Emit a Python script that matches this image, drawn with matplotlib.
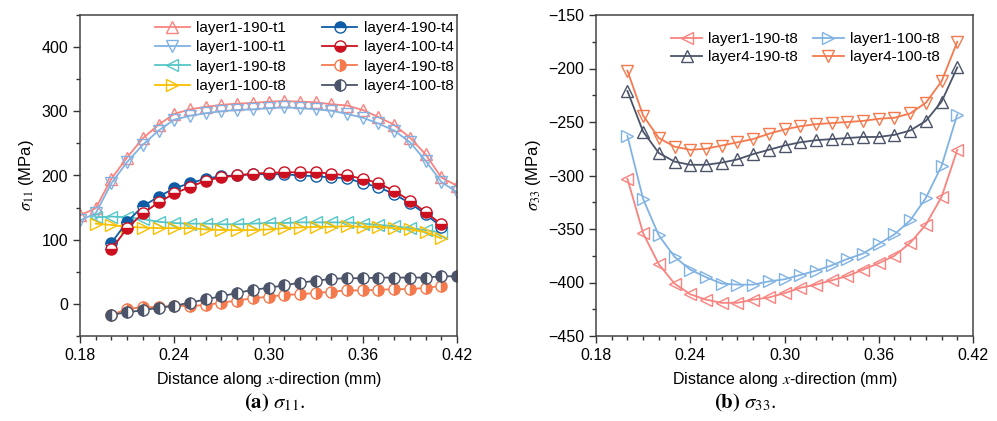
import matplotlib.pyplot as plt
import numpy as np
from matplotlib.ticker import MultipleLocator, FormatStrFormatter

plt.rcParams['font.family'] = ['Liberation Sans', 'DejaVu Sans']
plt.rcParams['mathtext.fontset'] = 'stix'

# ---- (a) sigma_11 ----
x_t1 = [0.18, 0.19, 0.20, 0.21, 0.22, 0.23, 0.24, 0.25, 0.26, 0.27, 0.28, 0.29, 0.30,
        0.31, 0.32, 0.33, 0.34, 0.35, 0.36, 0.37, 0.38, 0.39, 0.40, 0.41, 0.42]
l1_190_t1 = [138, 149, 195, 228, 258, 279, 296, 303, 307, 310, 312, 313, 315,
             316, 315, 314, 311, 309, 302, 291, 279, 259, 233, 197, 184]
l1_100_t1 = [130, 141, 188, 221, 248, 270, 287, 293, 297, 300, 302, 303, 305,
             306, 305, 303, 301, 296, 290, 281, 270, 252, 223, 190, 174]

x_t8a = [0.19, 0.20, 0.21, 0.22, 0.23, 0.24, 0.25, 0.26, 0.27, 0.28, 0.29, 0.30,
         0.31, 0.32, 0.33, 0.34, 0.35, 0.36, 0.37, 0.38, 0.39, 0.40, 0.41]
l1_190_t8 = [135, 136, 135, 132, 128, 126, 125, 125, 124, 124, 125, 126,
             126, 127, 127, 127, 127, 125, 123, 121, 118, 115, 111]
l1_100_t8 = [125, 123, 120, 119, 118, 118, 118, 116, 115, 115, 115, 116,
             118, 119, 120, 120, 121, 120, 120, 118, 116, 112, 102]

x_t4 = [0.20, 0.21, 0.22, 0.23, 0.24, 0.25, 0.26, 0.27, 0.28, 0.29, 0.30,
        0.31, 0.32, 0.33, 0.34, 0.35, 0.36, 0.37, 0.38, 0.39, 0.40, 0.41]
l4_190_t4 = [95, 128, 152, 167, 180, 188, 195, 199, 200, 202, 202,
             202, 200, 199, 197, 196, 188, 182, 171, 157, 140, 120]
l4_100_t4 = [85, 118, 141, 158, 172, 182, 192, 197, 200, 203, 204,
             205, 205, 205, 203, 200, 195, 188, 176, 161, 143, 124]
l4_190_t8 = [-17, -8, -5, -5, -3, -3, -2, 2, 5, 9, 11,
             14, 15, 17, 19, 21, 21, 22, 23, 23, 25, 28]

x_t8b = [0.20, 0.21, 0.22, 0.23, 0.24, 0.25, 0.26, 0.27, 0.28, 0.29, 0.30, 0.31,
         0.32, 0.33, 0.34, 0.35, 0.36, 0.37, 0.38, 0.39, 0.40, 0.41, 0.42]
l4_100_t8 = [-17, -13, -10, -6, -3, 2, 7, 12, 17, 22, 25, 29,
             33, 36, 39, 40, 40, 41, 41, 41, 41, 43, 43]

# ---- (b) sigma_33 ----
x_b = [0.20, 0.21, 0.22, 0.23, 0.24, 0.25, 0.26, 0.27, 0.28, 0.29, 0.30,
       0.31, 0.32, 0.33, 0.34, 0.35, 0.36, 0.37, 0.38, 0.39, 0.40, 0.41]
s33_l1_190 = [-303, -354, -383, -401, -411, -416, -419, -419, -416, -414, -410,
              -405, -402, -398, -394, -388, -382, -375, -363, -346, -320, -276]
s33_l1_100 = [-263, -322, -356, -376, -388, -395, -401, -402, -402, -399, -397,
              -393, -389, -384, -378, -373, -364, -355, -342, -321, -291, -243]
s33_l4_190 = [-221, -259, -279, -287, -290, -290, -288, -285, -280, -276, -272,
              -269, -267, -266, -265, -264, -264, -262, -258, -249, -231, -199]
s33_l4_100 = [-202, -244, -265, -273, -276, -275, -272, -269, -266, -261, -257,
              -254, -252, -251, -250, -249, -247, -246, -242, -232, -212, -175]

pink = '#F8837F'
lblue = '#80B3E3'
cyan = '#55C6C6'
yellow = '#F9C000'
dblue = '#0E5CA6'
red = '#CC1020'
orange = '#F47A4E'
slate = '#4B5468'

fig = plt.figure(figsize=(9.97, 4.21), dpi=100)
ax1 = fig.add_axes([80/997, 1-336/421, 377/997, 321/421])
ax2 = fig.add_axes([596/997, 1-336/421, 377/997, 321/421])

ms = 8
lw = 1.3
tri = dict(ms=ms, lw=lw, mfc='none', mew=1.0)
ax1.plot(x_t1, l1_190_t1, '-^', color=pink, label='layer1-190-t1', **tri)
ax1.plot(x_t1, l1_100_t1, '-v', color=lblue, label='layer1-100-t1', **tri)
ax1.plot(x_t8a, l1_190_t8, '-<', color=cyan, label='layer1-190-t8', **tri)
ax1.plot(x_t8a, l1_100_t8, '->', color=yellow, label='layer1-100-t8', **tri)

circ = dict(ms=ms, lw=lw, mfcalt='white', mew=1.0)
ax1.plot(x_t4, l4_190_t4, '-o', color=dblue, fillstyle='top', label='layer4-190-t4', **circ)
ax1.plot(x_t4, l4_100_t4, '-o', color=red, fillstyle='bottom', label='layer4-100-t4', **circ)
ax1.plot(x_t4, l4_190_t8, '-o', color=orange, fillstyle='right', label='layer4-190-t8', **circ)
ax1.plot(x_t8b, l4_100_t8, '-o', color=slate, fillstyle='left', label='layer4-100-t8', **circ)

b1, = ax2.plot(x_b, s33_l1_190, '-<', color=pink, label='layer1-190-t8', **tri)
b2, = ax2.plot(x_b, s33_l1_100, '->', color=lblue, label='layer1-100-t8', **tri)
b3, = ax2.plot(x_b, s33_l4_190, '-^', color=slate, label='layer4-190-t8', **tri)
b4, = ax2.plot(x_b, s33_l4_100, '-v', color=orange, label='layer4-100-t8', **tri)

for ax in (ax1, ax2):
    ax.set_xlim(0.18, 0.42)
    ax.xaxis.set_major_locator(MultipleLocator(0.06))
    ax.xaxis.set_minor_locator(MultipleLocator(0.01))
    ax.xaxis.set_major_formatter(FormatStrFormatter('%.2f'))
    ax.tick_params(which='major', direction='out', length=5, width=1, labelsize=11.5, color='#333333')
    ax.tick_params(which='minor', direction='out', length=3, width=1, color='#333333')
    for s in ax.spines.values():
        s.set_color('#444444')
        s.set_linewidth(1.1)
    ax.set_xlabel('Distance along $x$-direction (mm)', fontsize=11.5, labelpad=5)

ax1.set_ylim(-50, 450)
ax1.yaxis.set_major_locator(MultipleLocator(100))
ax1.yaxis.set_minor_locator(MultipleLocator(50))
ax1.set_ylabel(r'$\sigma_{11}$ (MPa)', fontsize=12, labelpad=4)

ax2.set_ylim(-450, -150)
ax2.yaxis.set_major_locator(MultipleLocator(50))
ax2.yaxis.set_minor_locator(MultipleLocator(25))
ax2.set_ylabel(r'$\sigma_{33}$ (MPa)', fontsize=12, labelpad=4)

ax1.legend(ncol=2, loc='upper right', frameon=False, fontsize=11, handlelength=2.3,
           handletextpad=0.4, columnspacing=2.4, labelspacing=0.35,
           borderaxespad=0.3, bbox_to_anchor=(1.019, 1.015))
# row-wise order as in the original legend
ax2.legend([b1, b3, b2, b4], [h.get_label() for h in (b1, b3, b2, b4)],
           ncol=2, loc='upper right', frameon=False, fontsize=11, handlelength=2.0,
           handletextpad=0.4, columnspacing=1.0, labelspacing=0.25,
           borderaxespad=0.3, bbox_to_anchor=(0.94, 0.98))

fig.text(275/997, 1-403/421, r'$\mathbf{(a)}\ \sigma_{11}.$', ha='center', va='center', fontsize=15)
fig.text(745/997, 1-403/421, r'$\mathbf{(b)}\ \sigma_{33}.$', ha='center', va='center', fontsize=15)

fig.savefig('out.png', dpi=100)
